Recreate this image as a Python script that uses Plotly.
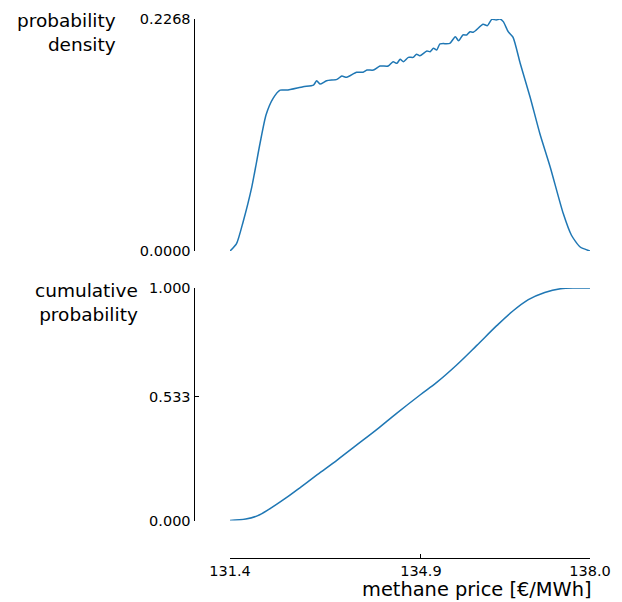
import plotly.graph_objects as go

# ---- data ----
pdf_x = [131.40, 131.52, 131.64, 131.80, 131.95, 132.06, 132.19, 132.32, 132.44, 132.74,
         132.93, 132.99, 133.05, 133.17, 133.36, 133.45, 133.54, 133.72, 133.84, 133.91,
         134.03, 134.15, 134.30, 134.39, 134.46, 134.52, 134.58, 134.67, 134.76, 134.82,
         134.88, 135.01, 135.07, 135.13, 135.19, 135.25, 135.43, 135.53, 135.59, 135.67,
         135.74, 135.80, 135.86, 136.04, 136.12, 136.20, 136.28, 136.35, 136.41, 136.50,
         136.59, 136.72, 136.90, 137.08, 137.27, 137.51, 137.66, 137.82, 138.00]
pdf_y = [0.0000, 0.0072, 0.0284, 0.0627, 0.1051, 0.1329, 0.1492, 0.1573, 0.1573, 0.1606,
         0.1622, 0.1664, 0.1632, 0.1664, 0.1678, 0.1710, 0.1698, 0.1747, 0.1747, 0.1769,
         0.1769, 0.1808, 0.1808, 0.1850, 0.1835, 0.1874, 0.1850, 0.1893, 0.1893, 0.1923,
         0.1909, 0.1955, 0.1948, 0.1981, 0.1965, 0.2024, 0.2030, 0.2095, 0.2056, 0.2112,
         0.2112, 0.2144, 0.2138, 0.2216, 0.2203, 0.2265, 0.2259, 0.2268, 0.2242, 0.2144,
         0.2089, 0.1835, 0.1508, 0.1149, 0.0822, 0.0366, 0.0154, 0.0039, 0.0000]

cdf_x = [131.40, 131.69, 131.90, 132.12, 132.42, 132.71, 133.00, 133.37, 133.73, 134.10,
         134.46, 134.89, 135.19, 135.56, 135.92, 136.29, 136.58, 136.87, 137.17, 137.46,
         137.75, 138.00]
cdf_y = [0.000, 0.006, 0.020, 0.049, 0.096, 0.146, 0.197, 0.261, 0.326, 0.393,
         0.462, 0.541, 0.594, 0.670, 0.752, 0.838, 0.900, 0.950, 0.981, 0.997,
         1.000, 1.000]

x_ticks = [131.4, 134.9, 138.0]
x_ticktext = ["131.4", "134.9", "138.0"]
pdf_ticks = [0.0, 0.2268]
pdf_ticktext = ["0.0000", "0.2268"]
cdf_ticks = [0.0, 0.533, 1.0]
cdf_ticktext = ["0.000", "0.533", "1.000"]

# page body has an 8px margin, so the figure sits at (8, 8)
OFF = 8
W, H = 622 - OFF, 602 - OFF
def px(x):
    return (x - OFF) / W
def py(y):
    return 1 - (y - OFF) / H

FONT = "DejaVu Sans"
LINE = "#1f77b4"

fig = go.Figure()
fig.add_trace(go.Scatter(x=pdf_x, y=pdf_y, mode="lines",
                         line=dict(color=LINE, width=1.5, shape="spline", smoothing=0.6),
                         xaxis="x", yaxis="y", showlegend=False, hoverinfo="skip"))
fig.add_trace(go.Scatter(x=cdf_x, y=cdf_y, mode="lines",
                         line=dict(color=LINE, width=1.5, shape="spline", smoothing=1.0),
                         xaxis="x2", yaxis="y2", showlegend=False, hoverinfo="skip"))

xdom = [px(230), px(590)]
axis_common = dict(showgrid=False, zeroline=False, showline=True, linecolor="black",
                   linewidth=1, ticks="inside", ticklen=4, tickcolor="black",
                   automargin=False,
                   tickfont=dict(family=FONT, size=14.5, color="black"))

fig.update_layout(
    width=W, height=H,
    margin=dict(l=0, r=0, t=0, b=0, autoexpand=False),
    paper_bgcolor="white", plot_bgcolor="white",
    font=dict(family=FONT, color="black"),
    xaxis=dict(domain=xdom, range=[131.4, 138.0], visible=False, anchor="y", automargin=False),
    yaxis=dict(domain=[py(251), py(19)], range=[0, 0.2268], anchor="free",
               position=px(193.5), tickvals=pdf_ticks, ticktext=pdf_ticktext, **axis_common),
    xaxis2=dict(domain=xdom, range=[131.4, 138.0], anchor="free", position=py(558),
                tickvals=x_ticks, ticktext=x_ticktext, **axis_common),
    yaxis2=dict(domain=[py(520.5), py(288)], range=[0, 1.0], anchor="free",
                position=px(193.5), tickvals=cdf_ticks, ticktext=cdf_ticktext, **axis_common),
    annotations=[
        dict(text="probability<br>density", xref="paper", yref="paper",
             x=px(118), y=py(8), xanchor="right", yanchor="top", align="right",
             showarrow=False, font=dict(family=FONT, size=18.5, color="black")),
        dict(text="cumulative<br>probability", xref="paper", yref="paper",
             x=px(140), y=py(278), xanchor="right", yanchor="top", align="right",
             showarrow=False, font=dict(family=FONT, size=18.5, color="black")),
        dict(text="methane price [€/MWh]", xref="paper", yref="paper",
             x=px(593), y=py(602), xanchor="right", yanchor="bottom", align="right",
             borderpad=0, showarrow=False,
             font=dict(family=FONT, size=19.4, color="black")),
    ],
)

fig.write_html("out.html")
